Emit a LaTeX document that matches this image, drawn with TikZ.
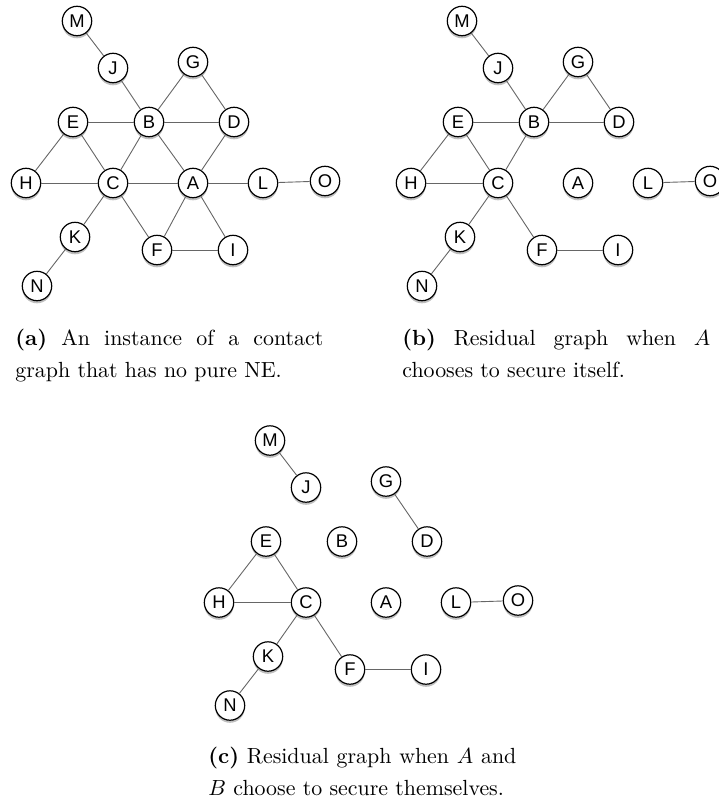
\documentclass[tikz,border=0pt]{standalone}
\usepackage{fontspec}
\newfontfamily\vertfont{Liberation Sans}
\usetikzlibrary{shadows}
\tolerance=9999

\tikzset{
  vert/.style={circle, draw=black, line width=0.6pt, fill=white, inner sep=0pt,
    minimum size=14.7pt, font=\vertfont\fontsize{9.2}{10}\selectfont,
    drop shadow={shadow xshift=0pt, shadow yshift=-1.3pt, opacity=0.5}},
  edge/.style={draw=black!60, line width=0.45pt},
  subcap/.style={anchor=north west, inner sep=0pt, text width=154pt, align=justify,
    font=\fontsize{10.95}{16}\selectfont}
}

\begin{document}
\begin{tikzpicture}[x=0.5pt, y=-0.5pt]
    \useasboundingbox (0,0) rectangle (718,803);

    % (a) Grafo completo
    \foreach \n/\x/\y in {M/77/21, J/113/68, G/193/62, E/73/122, B/149/122, D/234/122,
        H/26/183, C/113/183, A/193/183, L/263/183, O/325/181, K/75/237, F/157/250,
        I/233/250, N/37/286}
        \node[vert] (a\n) at (\x,\y) {\n};
    \foreach \u/\v in {M/J, J/B, B/G, G/D, E/B, B/D, E/H, E/C, B/C, B/A, D/A, H/C, C/A,
        A/L, L/O, C/K, K/N, C/F, A/F, A/I, F/I}
        \draw[edge] (a\u) -- (a\v);
    \node[subcap] (capa) at (15,328.6) {\textbf{(a)} An instance of a contact\linebreak
        graph that has no pure NE.};

    % (b) A protetto
    \begin{scope}[shift={(385,0)}]
    \foreach \n/\x/\y in {M/77/21, J/113/68, G/193/62, E/73/122, B/149/122, D/234/122,
        H/26/183, C/113/183, A/193/183, L/263/183, O/325/181, K/75/237, F/157/250,
        I/233/250, N/37/286}
        \node[vert] (b\n) at (\x,\y) {\n};
    \foreach \u/\v in {M/J, J/B, B/G, G/D, E/B, B/D, E/H, E/C, B/C, H/C, L/O, C/K, K/N,
        C/F, F/I}
        \draw[edge] (b\u) -- (b\v);
    \end{scope}
    \node[subcap] (capb) at (402,328.6) {\textbf{(b)} Residual graph when $A$\linebreak
        chooses to secure itself.};

    % (c) A e B protetti
    \begin{scope}[shift={(193,419.5)}]
    \foreach \n/\x/\y in {M/77/21, J/113/68, G/193/62, E/73/122, B/149/122, D/234/122,
        H/26/183, C/113/183, A/193/183, L/263/183, O/325/181, K/75/237, F/157/250,
        I/233/250, N/37/286}
        \node[vert] (c\n) at (\x,\y) {\n};
    \foreach \u/\v in {M/J, G/D, E/H, E/C, H/C, L/O, C/K, K/N, C/F, F/I}
        \draw[edge] (c\u) -- (c\v);
    \end{scope}
    \node[subcap] (capc) at (208,746.6) {\textbf{(c)} Residual graph when $A$ and\linebreak
        $B$ choose to secure themselves.};
\end{tikzpicture}
\end{document}
